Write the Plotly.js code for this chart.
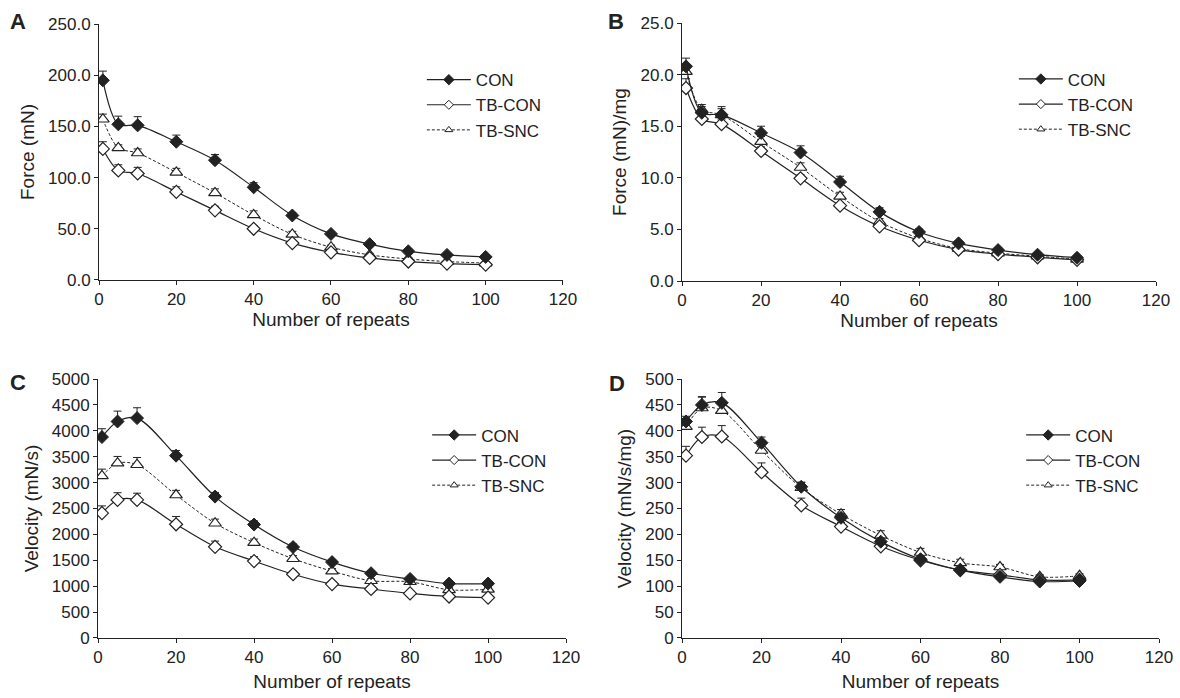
<!DOCTYPE html>
<html><head><meta charset="utf-8">
<script src="https://cdn.plot.ly/plotly-3.0.1.min.js"></script>
<style>html,body{margin:0;padding:0;background:#fff}#c{width:1180px;height:698px}</style>
</head><body><div id="c"></div>
<script>
const repeats = [1,5,10,20,30,40,50,60,70,80,90,100];
const seriesNames = ['CON','TB-CON','TB-SNC'];

// Panel A: Force (mN)
const forceCON   = [195, 152, 151, 135, 117, 90.5, 63, 45, 35, 28, 24.5, 22.5];
const forceTBCON = [128, 107, 104, 86, 68, 50, 36, 27, 21.5, 18, 16, 15];
const forceTBSNC = [157, 129, 124, 105, 85, 63.5, 44.5, 32, 24.5, 20.5, 18, 16.5];
const forceCONerr   = [9, 8, 8.5, 6.5, 5.5, 4.5, 3, 2, 1.5, 1.5, 1.5, 1.5];
const forceTBCONerr = [7, 5.5, 6, 5, 4, 3, 2, 1.5, 1.5, 1, 1, 1];
const forceTBSNCerr = [5, 3, 4, 4, 4, 4, 3, 2, 1.5, 1.5, 1, 1];

// Panel B: Force (mN)/mg
const forceMgCON   = [20.8, 16.3, 16.1, 14.35, 12.45, 9.6, 6.7, 4.75, 3.65, 3.0, 2.55, 2.25];
const forceMgTBCON = [18.7, 15.7, 15.2, 12.6, 9.95, 7.3, 5.3, 3.95, 3.05, 2.6, 2.3, 2.05];
const forceMgTBSNC = [20.3, 16.6, 16.1, 13.5, 11.0, 8.2, 5.75, 4.15, 3.15, 2.7, 2.4, 2.1];
const forceMgCONerr   = [0.8, 0.6, 0.8, 0.65, 0.65, 0.55, 0.4, 0.3, 0.25, 0.2, 0.2, 0.2];
const forceMgTBCONerr = [0.9, 0.5, 0.5, 0.4, 0.35, 0.3, 0.25, 0.2, 0.15, 0.15, 0.1, 0.1];
const forceMgTBSNCerr = [0.6, 0.5, 0.6, 0.5, 0.45, 0.4, 0.3, 0.25, 0.2, 0.15, 0.15, 0.1];

// Panel C: Velocity (mN/s)
const velCON   = [3880, 4180, 4245, 3520, 2730, 2190, 1755, 1465, 1250, 1140, 1050, 1050];
const velTBCON = [2410, 2665, 2665, 2195, 1760, 1485, 1230, 1040, 945, 860, 800, 780];
const velTBSNC = [3130, 3375, 3345, 2760, 2215, 1840, 1530, 1290, 1105, 1085, 930, 940];
const velCONerr   = [160, 200, 200, 100, 80, 70, 60, 50, 40, 40, 40, 40];
const velTBCONerr = [140, 140, 130, 150, 110, 85, 60, 50, 40, 40, 40, 40];
const velTBSNCerr = [130, 130, 140, 90, 80, 70, 60, 50, 40, 40, 40, 40];

// Panel D: Velocity (mN/s/mg)
const velMgCON   = [418, 450, 454, 377, 292, 232, 186, 152, 131, 118, 109, 110];
const velMgTBCON = [352, 388, 389, 320, 256, 215, 177, 150, 131, 122, 112, 112];
const velMgTBSNC = [408, 444, 439, 362, 290, 239, 198, 165, 145, 137, 118, 120];
const velMgCONerr   = [10, 15, 20, 11, 9, 8, 7, 6, 5, 4, 4, 4];
const velMgTBCONerr = [18, 19, 21, 18, 14, 8, 6, 5, 5, 4, 4, 4];
const velMgTBSNCerr = [12, 22, 15, 12, 10, 9, 9, 8, 7, 5, 4, 4];

const xTicks = [0,20,40,60,80,100,120];

const INK = '#222';
const styles = [
  {marker:{symbol:'diamond', size:10, color:INK, line:{color:INK, width:1}}, line:{color:INK, width:1.2, shape:'spline', smoothing:0.9}},
  {marker:{symbol:'diamond', size:10, color:'#fff', line:{color:INK, width:1.2}}, line:{color:INK, width:1.2, shape:'spline', smoothing:0.9}},
  {marker:{symbol:'triangle-up', size:11, color:'#fff', line:{color:INK, width:1.2}}, line:{color:INK, width:1, dash:'3px,2px', shape:'spline', smoothing:0.9}}
];
const legendMarkers = [
  {symbol:'diamond', size:8, color:INK, line:{color:INK, width:1}},
  {symbol:'diamond', size:7, color:'#fff', line:{color:INK, width:1}},
  {symbol:'triangle-up', size:7, color:'#fff', line:{color:INK, width:1}}
];

const panels = [
  {vals:[forceCON,forceTBCON,forceTBSNC], errs:[forceCONerr,forceTBCONerr,forceTBSNCerr], xa:'x', ya:'y', lg:'legend'},
  {vals:[forceMgCON,forceMgTBCON,forceMgTBSNC], errs:[forceMgCONerr,forceMgTBCONerr,forceMgTBSNCerr], xa:'x2', ya:'y2', lg:'legend2'},
  {vals:[velCON,velTBCON,velTBSNC], errs:[velCONerr,velTBCONerr,velTBSNCerr], xa:'x3', ya:'y3', lg:'legend3'},
  {vals:[velMgCON,velMgTBCON,velMgTBSNC], errs:[velMgCONerr,velMgTBCONerr,velMgTBSNCerr], xa:'x4', ya:'y4', lg:'legend4'}
];

const traces = [];
panels.forEach(p => {
  [2,1,0].forEach(i => {
    traces.push({
      type:'scatter', mode:'lines+markers', name:seriesNames[i],
      x:repeats, y:p.vals[i], xaxis:p.xa, yaxis:p.ya, legend:p.lg, showlegend:false,
      marker:styles[i].marker, line:styles[i].line,
      error_y:{type:'data', symmetric:false, array:p.errs[i], arrayminus:repeats.map(()=>0), color:INK, thickness:1, width:4},
      hoverinfo:'x+y+name'
    });
  });
  // legend keys (smaller symbols, as in the original figure)
  [0,1,2].forEach(i => {
    traces.push({
      type:'scatter', mode:'lines+markers', name:seriesNames[i],
      x:[null], y:[null], xaxis:p.xa, yaxis:p.ya, legend:p.lg, showlegend:true, legendrank:i+1,
      marker:legendMarkers[i], line:styles[i].line, hoverinfo:'skip'
    });
  });
});

const FONT = 'Liberation Sans, Arial, sans-serif';
function xax(dom, anchor, so){
  return {domain:dom, anchor:anchor, range:[0,120], tickvals:xTicks, ticks:'outside', ticklen:4, tickwidth:1,
    tickcolor:INK, showline:true, linecolor:INK, linewidth:1, showgrid:false, zeroline:false,
    tickfont:{family:FONT, size:17, color:INK}, title:{text:'Number of repeats', font:{family:FONT, size:19, color:INK}, standoff:so}};
}
function yax(dom, anchor, range, dtick, fmt, title){
  return {domain:dom, anchor:anchor, range:range, dtick:dtick, tick0:0, tickformat:fmt, ticks:'outside', ticklen:4, tickwidth:1,
    tickcolor:INK, showline:true, linecolor:INK, linewidth:1, showgrid:false, zeroline:false,
    tickfont:{family:FONT, size:17, color:INK}, title:{text:title, font:{family:FONT, size:19, color:INK}, standoff:8}};
}
function legend(x, y){
  return {x:x, y:y, xanchor:'left', yanchor:'top', bgcolor:'rgba(0,0,0,0)', borderwidth:0,
    font:{family:FONT, size:17, color:INK}, itemwidth:44, tracegroupgap:0, traceorder:'normal'};
}

const layout = {
  width:1180, height:698, margin:{l:0, r:0, t:0, b:0},
  paper_bgcolor:'#fff', plot_bgcolor:'#fff', showlegend:true,
  font:{family:FONT, color:INK},
  xaxis: xax([0.0839,0.4771],'y',4),
  yaxis: yax([0.5989,0.9656],'x',[0,250],50,'.1f','Force (mN)'),
  xaxis2: xax([0.5780,0.9797],'y2',4),
  yaxis2: yax([0.5974,0.9670],'x2',[0,25],5,'.1f','Force (mN)/mg'),
  xaxis3: xax([0.0831,0.4797],'y3',8),
  yaxis3: yax([0.0860,0.4570],'x3',[0,5000],500,'d','Velocity (mN/s)'),
  xaxis4: xax([0.5780,0.9822],'y4',8),
  yaxis4: yax([0.0860,0.4570],'x4',[0,500],50,'d','Velocity (mN/s/mg)'),
  legend: legend(0.3575, 0.911),
  legend2: legend(0.8592, 0.912),
  legend3: legend(0.362, 0.402),
  legend4: legend(0.8654, 0.402),
  annotations:[
    {text:'<b>A</b>', x:18/1180, y:1-21/698, xanchor:'center', yanchor:'middle', xref:'paper', yref:'paper', showarrow:false, font:{family:FONT, size:22, color:INK}},
    {text:'<b>B</b>', x:616/1180, y:1-21/698, xanchor:'center', yanchor:'middle', xref:'paper', yref:'paper', showarrow:false, font:{family:FONT, size:22, color:INK}},
    {text:'<b>C</b>', x:18/1180, y:1-382/698, xanchor:'center', yanchor:'middle', xref:'paper', yref:'paper', showarrow:false, font:{family:FONT, size:22, color:INK}},
    {text:'<b>D</b>', x:617/1180, y:1-383/698, xanchor:'center', yanchor:'middle', xref:'paper', yref:'paper', showarrow:false, font:{family:FONT, size:22, color:INK}}
  ]
};

Plotly.newPlot('c', traces, layout, {displayModeBar:false, staticPlot:true});
</script>
</body></html>
